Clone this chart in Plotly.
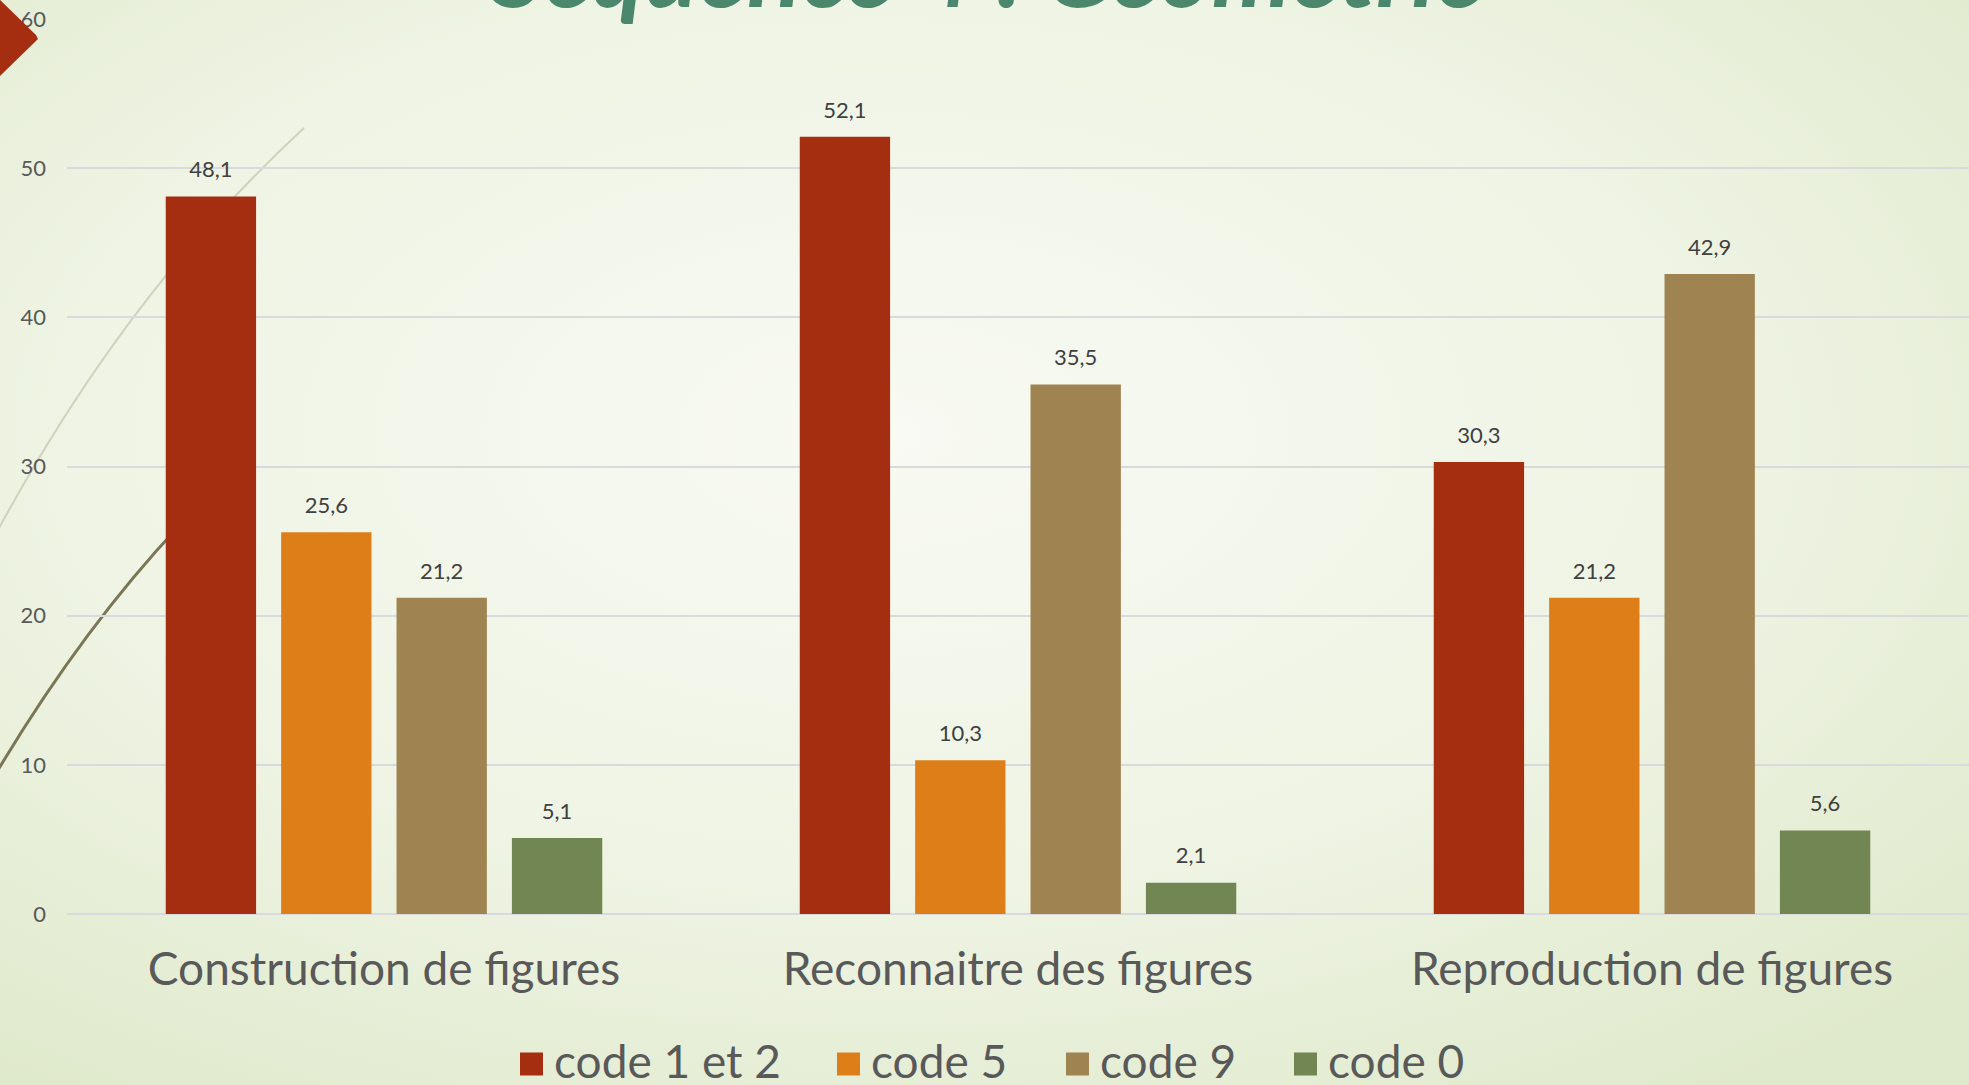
import base64
import plotly.graph_objects as go

categories = ["Construction de figures", "Reconnaitre des figures", "Reproduction de figures"]
series_names = ["code 1 et 2", "code 5", "code 9", "code 0"]
code_1_et_2 = [48.1, 52.1, 30.3]
code_5 = [25.6, 10.3, 21.2]
code_9 = [21.2, 35.5, 42.9]
code_0 = [5.1, 2.1, 5.6]
colors = ["#A52E10", "#DE7E19", "#9F8351", "#718653"]
y_ticks = [0, 10, 20, 30, 40, 50, 60]
title_text = "Séquence 4 : Géométrie"

W, H = 1969, 1085
ML, MR, MT, MB = 67, 0, 19, 171
PW, PH = W - ML - MR, H - MT - MB


def px(x):
    return (x - ML) / PW


def py(y):
    return (H - MB - y) / PH


FONT = "Lato"
GREY = "#595959"
LABEL_PAD = 0.75  # gap (in axis units) between bar top and its value label

fig = go.Figure()
legend_ids = ["legend", "legend2", "legend3", "legend4"]
all_series = [code_1_et_2, code_5, code_9, code_0]
for i, (name, vals, col) in enumerate(zip(series_names, all_series, colors)):
    fig.add_trace(go.Bar(
        name=name, x=categories, y=vals, offsetgroup=str(i), legend=legend_ids[i],
        marker=dict(color=col, line=dict(width=0)),
    ))
    fig.add_trace(go.Bar(
        name=name, x=categories, y=[LABEL_PAD] * len(vals), base=vals, offsetgroup=str(i),
        marker=dict(color="rgba(0,0,0,0)", line=dict(width=0)), showlegend=False,
        customdata=vals, texttemplate="%{customdata:.1f}", textposition="outside",
        textfont=dict(family=FONT, size=22, color="#404040"), cliponaxis=False,
        hoverinfo="skip",
    ))

svg = (
    f'<svg xmlns="http://www.w3.org/2000/svg" width="{W}" height="{H}">'
    '<defs><radialGradient id="g" cx="0.45" cy="0.4" r="0.75">'
    '<stop offset="0" stop-color="#f8faf3"/><stop offset="0.55" stop-color="#eff4e4"/>'
    '<stop offset="1" stop-color="#dfe9cb"/></radialGradient></defs>'
    f'<rect width="{W}" height="{H}" fill="url(#g)"/></svg>'
)
src = "data:image/svg+xml;base64," + base64.b64encode(svg.encode()).decode()


def path(points, close=False):
    s = "M " + " L ".join(f"{px(a):.5f},{py(b):.5f}" for a, b in points)
    return s + (" Z" if close else "")


def cpath(p0, c1, c2, p1):
    return (f"M {px(p0[0]):.5f},{py(p0[1]):.5f} C {px(c1[0]):.5f},{py(c1[1]):.5f} "
            f"{px(c2[0]):.5f},{py(c2[1]):.5f} {px(p1[0]):.5f},{py(p1[1]):.5f}")


shapes = [
    dict(type="path", xref="paper", yref="paper", layer="below",
         path=cpath((-2, 530), (55, 425), (150, 270), (304, 128)),
         line=dict(color="#cfd3bb", width=2)),
    dict(type="path", xref="paper", yref="paper", layer="below",
         path=cpath((-2, 770), (40, 700), (100, 610), (180, 525)),
         line=dict(color="#7b7656", width=3)),
    dict(type="path", xref="paper", yref="paper", layer="above",
         path=path([(-4, -4), (36, 35), (38, 39), (-4, 80)], close=True),
         line=dict(width=0), fillcolor="#A52E10"),
]

# legend text start positions (px)
legend_text_x = [554, 871, 1100, 1328]
LEG_Y = 1060
legends = {}
for lid, tx, col in zip(legend_ids, legend_text_x, colors):
    legends[lid] = dict(orientation="h", x=px(tx - 40), xanchor="left", y=py(LEG_Y),
                        yanchor="middle", font=dict(family=FONT, size=46, color=GREY),
                        bgcolor="rgba(0,0,0,0)", borderwidth=0)
    # enlarged legend swatch drawn behind the (smaller) legend icon of the same colour
    cx, half = tx - 22.5, 11.5
    shapes.append(dict(type="rect", xref="paper", yref="paper", layer="above",
                       x0=px(cx - half), x1=px(cx + half), y0=py(1064 + half), y1=py(1064 - half),
                       line=dict(width=0), fillcolor=col))

fig.update_layout(
    width=W, height=H,
    margin=dict(l=ML, r=MR, t=MT, b=MB, autoexpand=False),
    paper_bgcolor="#eef3e2", plot_bgcolor="rgba(0,0,0,0)",
    separators=", ",
    barmode="group", bargap=0.272, bargroupgap=0.217,
    font=dict(family=FONT, color=GREY),
    images=[dict(source=src, xref="paper", yref="paper", x=px(0), y=py(0),
                 sizex=W / PW, sizey=H / PH, xanchor="left", yanchor="top",
                 sizing="stretch", layer="below")],
    shapes=shapes,
    annotations=[dict(text=f"<b><i>{title_text}</i></b>", xref="paper", yref="paper",
                      x=px(988), y=py(30), xanchor="center", yanchor="bottom",
                      showarrow=False, font=dict(family=FONT, size=100, color="#4B876D"))],
    xaxis=dict(showgrid=False, showline=False, ticks="", tickfont=dict(size=46, color=GREY),
               ticklabelstandoff=24),
    yaxis=dict(range=[0, 60], tickvals=y_ticks, showgrid=True, gridcolor="#d9dade", gridwidth=2,
               zeroline=True, zerolinecolor="#d9dade", zerolinewidth=2, showline=False,
               tickfont=dict(size=22, color=GREY), ticklabelstandoff=20),
    showlegend=True,
    **legends,
)

fig.write_html("out.html", config={"displayModeBar": False},
               post_script="document.body.style.margin='0';document.body.style.overflow='hidden';")
